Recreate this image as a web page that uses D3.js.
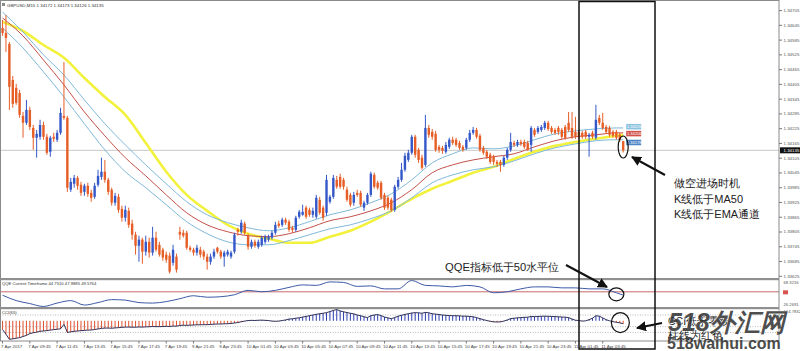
<!DOCTYPE html>
<meta charset="utf-8">
<script src="https://d3js.org/d3.v7.min.js"></script>
<style>
  body { margin: 0; background: #fff; }
  svg text { font-family: "Liberation Sans", Arial, sans-serif; }
</style>
<div id="chart"></div>
<script>

// GBPUSD M15 bars: [open, high, low, close]
const candles = [
  [1.34632,1.34665,1.34600,1.34612],[1.34612,1.34685,1.34535,1.34592],[1.34567,1.34575,1.34299,1.34393],[1.34421,1.34437,1.34308,1.34324],
  [1.34389,1.34405,1.34320,1.34328],[1.34368,1.34381,1.34267,1.34279],[1.34275,1.34291,1.34186,1.34247],[1.34247,1.34340,1.34238,1.34299],
  [1.34299,1.34312,1.34218,1.34230],[1.34226,1.34238,1.34137,1.34186],[1.34186,1.34218,1.34105,1.34202],[1.34190,1.34259,1.34178,1.34238],
  [1.34238,1.34251,1.34178,1.34190],[1.34190,1.34202,1.34117,1.34125],[1.34129,1.34194,1.34109,1.34186],[1.34190,1.34206,1.34169,1.34182],
  [1.34178,1.34218,1.34169,1.34206],[1.34206,1.34308,1.34198,1.34287],[1.34275,1.34494,1.34259,1.34267],[1.34267,1.34275,1.33966,1.33983],
  [1.33975,1.34023,1.33966,1.34007],[1.33999,1.34035,1.33983,1.34023],[1.34023,1.34031,1.33975,1.33991],[1.33995,1.34007,1.33950,1.33962],
  [1.33966,1.33999,1.33950,1.33991],[1.33991,1.34003,1.33946,1.33958],[1.33962,1.33975,1.33926,1.33942],[1.33946,1.34003,1.33938,1.33991],
  [1.33995,1.34056,1.33987,1.34031],[1.34027,1.34105,1.34015,1.34048],[1.34048,1.34096,1.34003,1.34015],[1.34015,1.34023,1.33954,1.33966],
  [1.33975,1.33983,1.33910,1.33922],[1.33922,1.33962,1.33910,1.33950],[1.33946,1.33958,1.33881,1.33893],[1.33897,1.33910,1.33845,1.33861],
  [1.33861,1.33910,1.33845,1.33893],[1.33889,1.33902,1.33820,1.33832],[1.33837,1.33853,1.33772,1.33792],[1.33792,1.33804,1.33711,1.33747],
  [1.33747,1.33788,1.33682,1.33772],[1.33772,1.33780,1.33674,1.33723],[1.33723,1.33788,1.33707,1.33763],[1.33763,1.33780,1.33699,1.33719],
  [1.33719,1.33824,1.33707,1.33780],[1.33780,1.33804,1.33723,1.33731],[1.33751,1.33763,1.33703,1.33711],[1.33731,1.33739,1.33686,1.33699],
  [1.33711,1.33723,1.33678,1.33690],[1.33707,1.33719,1.33634,1.33642],[1.33678,1.33751,1.33666,1.33731],[1.33703,1.33715,1.33638,1.33650],
  [1.33804,1.33824,1.33772,1.33792],[1.33800,1.33812,1.33780,1.33788],[1.33800,1.33808,1.33731,1.33739],[1.33739,1.33747,1.33723,1.33731],
  [1.33731,1.33739,1.33707,1.33719],[1.33719,1.33751,1.33707,1.33739],[1.33731,1.33743,1.33699,1.33711],[1.33723,1.33731,1.33690,1.33703],
  [1.33703,1.33715,1.33650,1.33682],[1.33682,1.33715,1.33670,1.33703],[1.33703,1.33735,1.33694,1.33723],[1.33739,1.33743,1.33715,1.33723],
  [1.33723,1.33731,1.33694,1.33703],[1.33703,1.33727,1.33662,1.33719],[1.33711,1.33731,1.33703,1.33723],[1.33703,1.33727,1.33694,1.33719],
  [1.33723,1.33800,1.33715,1.33792],[1.33812,1.33820,1.33788,1.33804],[1.33804,1.33853,1.33796,1.33841],[1.33837,1.33845,1.33792,1.33800],
  [1.33788,1.33796,1.33731,1.33743],[1.33743,1.33772,1.33735,1.33763],[1.33763,1.33772,1.33739,1.33747],[1.33743,1.33772,1.33735,1.33763],
  [1.33751,1.33788,1.33743,1.33780],[1.33763,1.33792,1.33755,1.33784],[1.33772,1.33792,1.33763,1.33784],[1.33780,1.33808,1.33772,1.33800],
  [1.33800,1.33845,1.33792,1.33832],[1.33837,1.33849,1.33820,1.33828],[1.33832,1.33861,1.33824,1.33853],[1.33853,1.33861,1.33832,1.33841],
  [1.33845,1.33853,1.33804,1.33812],[1.33820,1.33828,1.33800,1.33812],[1.33812,1.33869,1.33804,1.33861],[1.33865,1.33893,1.33857,1.33885],
  [1.33873,1.33914,1.33869,1.33885],[1.33902,1.33910,1.33857,1.33865],[1.33893,1.33902,1.33865,1.33873],[1.33873,1.33902,1.33861,1.33889],
  [1.33865,1.33954,1.33857,1.33942],[1.33934,1.33946,1.33873,1.33881],[1.33902,1.33910,1.33849,1.33861],[1.33881,1.34035,1.33869,1.34015],
  [1.33926,1.33954,1.33918,1.33946],[1.33946,1.34035,1.33938,1.34023],[1.34015,1.34031,1.33979,1.33987],[1.34027,1.34040,1.33979,1.33987],
  [1.34015,1.34023,1.33975,1.33987],[1.33975,1.33987,1.33926,1.33934],[1.33954,1.33962,1.33906,1.33914],[1.33922,1.33966,1.33910,1.33954],
  [1.33962,1.33975,1.33946,1.33954],[1.33962,1.33971,1.33906,1.33914],[1.33902,1.33930,1.33889,1.33922],[1.33922,1.33962,1.33914,1.33954],
  [1.33954,1.34048,1.33946,1.34040],[1.34035,1.34044,1.33979,1.33987],[1.34003,1.34011,1.33975,1.33983],[1.34003,1.34011,1.33934,1.33942],
  [1.33954,1.33962,1.33893,1.33902],[1.33942,1.33950,1.33893,1.33902],[1.33934,1.33942,1.33885,1.33893],[1.33893,1.33995,1.33885,1.33987],
  [1.33987,1.34027,1.33979,1.34015],[1.34015,1.34084,1.34007,1.34056],[1.34056,1.34125,1.34048,1.34113],[1.34096,1.34137,1.34088,1.34125],
  [1.34125,1.34198,1.34117,1.34190],[1.34190,1.34198,1.34105,1.34117],[1.34137,1.34145,1.34084,1.34096],[1.34105,1.34117,1.34056,1.34064],
  [1.34076,1.34279,1.34068,1.34226],[1.34226,1.34238,1.34186,1.34198],[1.34210,1.34222,1.34178,1.34190],[1.34202,1.34214,1.34129,1.34137],
  [1.34149,1.34157,1.34125,1.34137],[1.34145,1.34153,1.34121,1.34133],[1.34129,1.34169,1.34121,1.34157],[1.34149,1.34186,1.34141,1.34178],
  [1.34178,1.34190,1.34157,1.34165],[1.34178,1.34186,1.34149,1.34157],[1.34165,1.34174,1.34137,1.34145],[1.34149,1.34157,1.34129,1.34137],
  [1.34145,1.34186,1.34137,1.34178],[1.34178,1.34218,1.34169,1.34206],[1.34206,1.34230,1.34198,1.34218],[1.34218,1.34226,1.34182,1.34190],
  [1.34194,1.34202,1.34129,1.34137],[1.34145,1.34153,1.34117,1.34125],[1.34129,1.34137,1.34100,1.34109],[1.34117,1.34125,1.34080,1.34088],
  [1.34109,1.34117,1.34076,1.34088],[1.34088,1.34096,1.34068,1.34080],[1.34088,1.34096,1.34048,1.34076],[1.34076,1.34113,1.34068,1.34105],
  [1.34105,1.34145,1.34096,1.34137],[1.34137,1.34206,1.34129,1.34169],[1.34165,1.34174,1.34149,1.34157],[1.34157,1.34178,1.34149,1.34169],
  [1.34169,1.34178,1.34153,1.34161],[1.34169,1.34178,1.34141,1.34149],[1.34165,1.34174,1.34133,1.34137],[1.34157,1.34234,1.34129,1.34226],
  [1.34218,1.34226,1.34190,1.34198],[1.34210,1.34234,1.34202,1.34226],[1.34218,1.34238,1.34210,1.34230],[1.34226,1.34255,1.34218,1.34247],
  [1.34247,1.34255,1.34214,1.34222],[1.34226,1.34234,1.34202,1.34210],[1.34218,1.34226,1.34198,1.34206],[1.34226,1.34234,1.34198,1.34210],
  [1.34218,1.34226,1.34182,1.34190],[1.34230,1.34238,1.34178,1.34186],[1.34247,1.34291,1.34210,1.34218],[1.34226,1.34291,1.34182,1.34190],
  [1.34210,1.34271,1.34182,1.34190],[1.34210,1.34218,1.34182,1.34190],[1.34206,1.34214,1.34182,1.34190],[1.34210,1.34218,1.34182,1.34190],
  [1.34190,1.34206,1.34109,1.34198],[1.34206,1.34214,1.34182,1.34190],[1.34186,1.34320,1.34178,1.34259],[1.34267,1.34279,1.34238,1.34247],
  [1.34247,1.34287,1.34218,1.34226],[1.34230,1.34238,1.34202,1.34210],[1.34226,1.34234,1.34190,1.34198],[1.34210,1.34218,1.34186,1.34194],
  [1.34210,1.34218,1.34178,1.34186],[1.34198,1.34206,1.34169,1.34178],[1.34172,1.34173,1.34126,1.34135]
];

// moving averages, read every 6 bars (last point = last bar)
const maIdx = d3.range(0, 181, 6).concat([182]);
const emaHigh = [1.34697,1.34616,1.34523,1.34441,1.34340,1.34243,1.34157,1.34076,1.33999,1.33926,1.33873,1.33841,1.33820,1.33808,1.33820,1.33845,
                 1.33873,1.33893,1.33922,1.33958,1.34015,1.34084,1.34121,1.34145,1.34141,1.34153,1.34178,1.34202,1.34214,1.34222,1.34226,1.34226];
const maMid   = [1.34673,1.34600,1.34502,1.34401,1.34291,1.34194,1.34105,1.34031,1.33954,1.33881,1.33832,1.33804,1.33788,1.33784,1.33796,1.33820,
                 1.33849,1.33865,1.33889,1.33922,1.33975,1.34044,1.34076,1.34096,1.34109,1.34121,1.34149,1.34174,1.34190,1.34198,1.34206,1.34206];
const emaLow  = [1.34632,1.34551,1.34454,1.34352,1.34243,1.34137,1.34048,1.33983,1.33914,1.33845,1.33796,1.33763,1.33751,1.33751,1.33768,1.33792,
                 1.33816,1.33832,1.33857,1.33889,1.33942,1.34003,1.34035,1.34056,1.34068,1.34092,1.34121,1.34145,1.34161,1.34174,1.34178,1.34178];
const ma50    = [1.34657,1.34620,1.34563,1.34511,1.34429,1.34352,1.34279,1.34165,1.34048,1.33954,1.33889,1.33832,1.33796,1.33776,1.33759,1.33759,
                 1.33784,1.33808,1.33845,1.33889,1.33938,1.33979,1.34011,1.34044,1.34068,1.34100,1.34129,1.34153,1.34169,1.34182,1.34194,1.34198];

// QQE line, read every 4 bars
const qqeIdx = d3.range(0, 181, 4).concat([182]);
const qqe = [44.5,35.8,31.0,26.3,31.8,35.8,28.6,32.6,37.4,36.6,32.6,31.8,34.2,38.9,43.7,41.3,42.1,45.3,52.4,50.1,52.4,57.2,61.2,60.4,
             66.0,65.2,58.8,59.6,54.8,54.8,68.3,60.4,59.6,58.0,60.4,58.0,48.5,50.1,54.8,58.0,58.0,56.4,56.4,54.8,54.8,48.5,44.75];

// CCI(65), one value per bar
const cci = [
  -150,-230,-318,-310,-300,-290,-270,-250,-220,-205,-195,-180,-175,-168,-160,-152,-145,-138,-60,-200,
  -190,-180,-175,-170,-165,-160,-158,-150,-140,-130,-125,-125,-128,-122,-118,-112,-108,-108,-110,-110,
  -106,-108,-104,-102,-98,-100,-100,-98,-95,-98,-90,-92,-80,-76,-78,-75,-72,-68,-68,-66,
  -66,-62,-58,-55,-55,-52,-50,-45,-38,-30,-15,-5,5,8,6,10,12,8,5,-5,
  -8,-5,5,15,30,35,45,52,65,75,88,100,112,122,130,140,160,178,194.8,170,
  155,142,130,120,100,88,70,55,88,100,108,90,65,50,38,55,80,95,110,122,
  135,140,138,130,145,138,122,115,108,100,95,90,88,88,85,80,80,75,70,55,
  38,20,5,-8,-18,-20,-18,-5,15,38,45,52,55,60,62,75,72,75,78,80,
  78,75,72,70,65,62,55,30,10,5,-5,0,20,45,88,80,50,20,0,-15,
  -25,-35,-50
];

const priceTicks = [1.34705,1.34645,1.34585,1.34525,1.34465,1.34405,1.34345,1.34285,1.34225,1.34165,
                    1.34105,1.34045,1.33985,1.33925,1.33865,1.33805,1.33745,1.33685,1.33625];
const timeIdx = d3.range(0, 177, 8);
const timeLabels = ["7 Apr 2017","7 Apr 09:45","7 Apr 11:45","7 Apr 13:45","7 Apr 15:45","7 Apr 17:45","7 Apr 19:45",
  "9 Apr 21:45","9 Apr 23:45","10 Apr 01:45","10 Apr 03:45","10 Apr 05:45","10 Apr 07:45","10 Apr 09:45","10 Apr 11:45",
  "10 Apr 13:45","10 Apr 15:45","10 Apr 17:45","10 Apr 19:45","10 Apr 21:45","10 Apr 23:45","11 Apr 01:45","11 Apr 03:45"];

const bullCol = "#3558c8", bearCol = "#e65e26";
const axisX = 779;

const svg = d3.select("#chart").append("svg")
  .attr("width", 800)
  .attr("height", 351);

// scales
const x = d3.scaleLinear().domain([-0.75, 227.4]).range([0, 778]);
const y = d3.scaleLinear().domain([1.33616, 1.34746]).range([278, 0]);
const yQ = d3.scaleLinear().domain([26.2691, 68.3216]).range([306.5, 280.5]);
const yC = d3.scaleLinear().domain([-330, 194.7832]).range([340, 309.5]);

const defs = svg.append("defs");
defs.append("clipPath").attr("id", "clipP").append("rect").attr("x", 0).attr("y", 0).attr("width", axisX).attr("height", 278);
defs.append("marker").attr("id", "arr").attr("viewBox", "0 0 10 10")
  .attr("refX", 9).attr("refY", 5).attr("markerWidth", 5).attr("markerHeight", 5).attr("orient", "auto")
  .append("path").attr("d", "M0,0 L10,5 L0,10 Z").attr("fill", "#111");

// last price line
svg.append("line")
  .attr("x1", 0).attr("x2", axisX)
  .attr("y1", y(candles[candles.length - 1][3])).attr("y2", y(candles[candles.length - 1][3]))
  .attr("stroke", "#c8c8c8").attr("stroke-width", 1);

// moving averages
const pg = svg.append("g").attr("clip-path", "url(#clipP)");
const maLine = vals => d3.line()
  .x((d, i) => x(maIdx[i]))
  .y(d => y(d))
  .curve(d3.curveMonotoneX)(vals);

pg.append("path").attr("d", maLine(ma50)).attr("fill", "none").attr("stroke", "#f2f23c").attr("stroke-width", 2.6);
pg.append("path").attr("d", maLine(emaHigh)).attr("fill", "none").attr("stroke", "#7fb9d9").attr("stroke-width", 1);
pg.append("path").attr("d", maLine(emaLow)).attr("fill", "none").attr("stroke", "#7fb9d9").attr("stroke-width", 1);
pg.append("path").attr("d", maLine(maMid)).attr("fill", "none").attr("stroke", "#c4504a").attr("stroke-width", 1);

// candles
pg.selectAll("line.wick")
  .data(candles)
  .join("line")
    .attr("class", "wick")
    .attr("x1", (d, i) => x(i)).attr("x2", (d, i) => x(i))
    .attr("y1", d => y(d[1])).attr("y2", d => y(d[2]))
    .attr("stroke", d => d[3] >= d[0] ? bullCol : bearCol)
    .attr("stroke-width", 1);

pg.selectAll("rect.body")
  .data(candles)
  .join("rect")
    .attr("class", "body")
    .attr("x", (d, i) => x(i) - 1.2)
    .attr("width", 2.4)
    .attr("y", d => y(Math.max(d[0], d[3])))
    .attr("height", d => Math.max(1, Math.abs(y(d[0]) - y(d[3]))))
    .attr("fill", d => d[3] >= d[0] ? bullCol : bearCol);

// MA value tags next to the last bar
const last = maIdx.length - 1;
[[emaHigh[last], "#8cc4e0"], [maMid[last], "#d0524a"], [emaLow[last], "#4f86c6"]].forEach(function(t, k) {
  const ty = y(t[0]) + [-1, 1, 3][k];
  svg.append("rect").attr("x", x(182) + 3).attr("y", ty - 3).attr("width", 15).attr("height", 5.5)
    .attr("fill", t[1]);
  svg.append("text").attr("x", x(182) + 3.8).attr("y", ty + 1.3)
    .attr("font-size", 4).attr("fill", "#fff").text(d3.format(".5f")(t[0]));
});

// QQE panel
svg.append("line").attr("x1", 0).attr("x2", axisX).attr("y1", yQ(50)).attr("y2", yQ(50))
  .attr("stroke", "#c86a6a").attr("stroke-width", 1);
svg.append("path")
  .attr("d", d3.line().x((d, i) => x(qqeIdx[i])).y(d => yQ(d)).curve(d3.curveMonotoneX)(qqe))
  .attr("fill", "none").attr("stroke", "#3d5aa8").attr("stroke-width", 1);

// CCI panel
[100, -100, -200].forEach(function(l) {
  svg.append("line").attr("x1", 0).attr("x2", axisX).attr("y1", yC(l)).attr("y2", yC(l))
    .attr("stroke", "#a8a8a8").attr("stroke-width", 0.8).attr("stroke-dasharray", "1,1.5");
});
svg.selectAll("line.cci")
  .data(cci)
  .join("line")
    .attr("class", "cci")
    .attr("x1", (d, i) => x(i)).attr("x2", (d, i) => x(i))
    .attr("y1", yC(0)).attr("y2", d => yC(d))
    .attr("stroke", d => d >= 0 ? "#2d3fb0" : "#e0502e")
    .attr("stroke-width", 1);
svg.append("path")
  .attr("d", d3.line().x((d, i) => x(i)).y(d => yC(d))(cci))
  .attr("fill", "none").attr("stroke", "#1c1c48").attr("stroke-width", 0.9);

// frames and separators
svg.append("rect").attr("x", 0.5).attr("y", 0.5).attr("width", axisX - 0.5).attr("height", 340.5)
  .attr("fill", "none").attr("stroke", "#8a8a8a").attr("stroke-width", 1);
svg.append("rect").attr("x", 0).attr("y", 278).attr("width", axisX).attr("height", 2.2).attr("fill", "#8f8f8f");
svg.append("rect").attr("x", 0).attr("y", 307).attr("width", axisX).attr("height", 2.2).attr("fill", "#8f8f8f");

// price axis
const pAxis = svg.append("g")
  .attr("transform", `translate(${axisX},0)`)
  .call(d3.axisRight(y).tickValues(priceTicks).tickFormat(d3.format(".5f")).tickSize(3).tickPadding(1.5));
pAxis.select(".domain").remove();
pAxis.selectAll("line").attr("stroke", "#777");
pAxis.selectAll("text").attr("font-size", 4.4).attr("fill", "#555").attr("font-family", "Liberation Sans, Arial, sans-serif");

// current price tag
const lastClose = candles[candles.length - 1][3];
svg.append("rect").attr("x", axisX + 1).attr("y", y(lastClose) - 3).attr("width", 20).attr("height", 6).attr("fill", "#111");
svg.append("text").attr("x", axisX + 4.5).attr("y", y(lastClose) + 1.5)
  .attr("font-size", 4.4).attr("fill", "#fff").text(d3.format(".5f")(lastClose));

// indicator scale labels
svg.append("text").attr("x", axisX + 4.5).attr("y", yQ(68.3216) + 3).attr("font-size", 4.2).attr("fill", "#555").text("68.3216");
svg.append("rect").attr("x", axisX + 4).attr("y", yQ(50) - 1.5).attr("width", 5).attr("height", 4).attr("fill", "#d9534f");
svg.append("text").attr("x", axisX + 4.5).attr("y", yQ(26.2691) - 1).attr("font-size", 4.2).attr("fill", "#555").text("26.2691");
svg.append("text").attr("x", axisX + 4.5).attr("y", yC(194.7832) + 3.5).attr("font-size", 4.2).attr("fill", "#555").text("194.7832");

// time axis
svg.selectAll("line.tt")
  .data(timeIdx)
  .join("line")
    .attr("x1", d => x(d)).attr("x2", d => x(d))
    .attr("y1", 341).attr("y2", 343.5)
    .attr("stroke", "#777");
svg.selectAll("text.tl")
  .data(timeIdx)
  .join("text")
    .attr("x", d => x(d) - 1.5)
    .attr("y", 348)
    .attr("font-size", 4.4)
    .attr("fill", "#444")
    .text((d, i) => timeLabels[i]);

// panel titles
svg.append("rect").attr("x", 2).attr("y", 3).attr("width", 3).attr("height", 3).attr("fill", "#8a8a8a");
svg.append("text").attr("x", 7).attr("y", 6.5).attr("font-size", 4.4).attr("fill", "#333")
  .text("GBPUSD,M15  1.34172 1.34173 1.34126 1.34135");
svg.append("text").attr("x", 2).attr("y", 285).attr("font-size", 4.2).attr("fill", "#333")
  .text("QQE Current Timeframe 44.7510 47.9885 49.5764");
svg.append("text").attr("x", 2).attr("y", 314).attr("font-size", 4.2).attr("fill", "#333")
  .text("CCI(65)");

// annotations
const cjk = "'Noto Sans CJK SC', 'Noto Sans', sans-serif";
svg.append("rect").attr("x", 579).attr("y", 1.5).attr("width", 76).attr("height", 347.5)
  .attr("fill", "none").attr("stroke", "#111").attr("stroke-width", 1.5);

svg.append("ellipse").attr("cx", x(182)).attr("cy", 147).attr("rx", 5).attr("ry", 11)
  .attr("fill", "none").attr("stroke", "#111").attr("stroke-width", 1.2);
svg.append("line").attr("x1", 665).attr("y1", 175).attr("x2", 632).attr("y2", 157)
  .attr("stroke", "#111").attr("stroke-width", 2).attr("marker-end", "url(#arr)");
["做空进场时机", "K线低于MA50", "K线低于EMA通道"].forEach(function(t, k) {
  svg.append("text").attr("x", 674).attr("y", 187 + k * 15.5)
    .attr("font-family", cjk).attr("font-size", 11).attr("fill", "#222").text(t);
});

svg.append("text").attr("x", 445).attr("y", 271)
  .attr("font-family", cjk).attr("font-size", 11.2).attr("fill", "#222").text("QQE指标低于50水平位");
svg.append("line").attr("x1", 566).attr("y1", 265).attr("x2", 607).attr("y2", 287)
  .attr("stroke", "#111").attr("stroke-width", 2).attr("marker-end", "url(#arr)");
svg.append("ellipse").attr("cx", x(180)).attr("cy", yQ(46)).attr("rx", 7.5).attr("ry", 6.5)
  .attr("fill", "none").attr("stroke", "#111").attr("stroke-width", 1.2);

svg.append("ellipse").attr("cx", x(180) + 4).attr("cy", yC(-30)).attr("rx", 9).attr("ry", 10)
  .attr("fill", "none").attr("stroke", "#111").attr("stroke-width", 1.2);
svg.append("line").attr("x1", 662).attr("y1", 323).attr("x2", 637).attr("y2", 328)
  .attr("stroke", "#111").attr("stroke-width", 2).attr("marker-end", "url(#arr)");
svg.append("text").attr("x", 668).attr("y", 325)
  .attr("font-family", cjk).attr("font-size", 10.5).attr("fill", "#222").text("CCI低于零线");
svg.append("text").attr("x", 668).attr("y", 339)
  .attr("font-family", cjk).attr("font-size", 10.5).attr("fill", "#222").text("柱线为红色");

// site watermark
svg.append("text").attr("x", 668).attr("y", 331)
  .attr("font-family", cjk).attr("font-size", 25).attr("font-weight", "bold").attr("font-style", "italic")
  .attr("fill", "#2e2e2e").attr("fill-opacity", 0.85)
  .attr("stroke", "#fff").attr("stroke-width", 0.8).attr("paint-order", "stroke")
  .text("518外汇网");
svg.append("text").attr("x", 667).attr("y", 349)
  .attr("font-family", "'DejaVu Serif', 'Liberation Serif', serif").attr("font-size", 16).attr("font-weight", "bold")
  .attr("fill", "#333").attr("fill-opacity", 0.9)
  .text("518waihui.com");

</script>
